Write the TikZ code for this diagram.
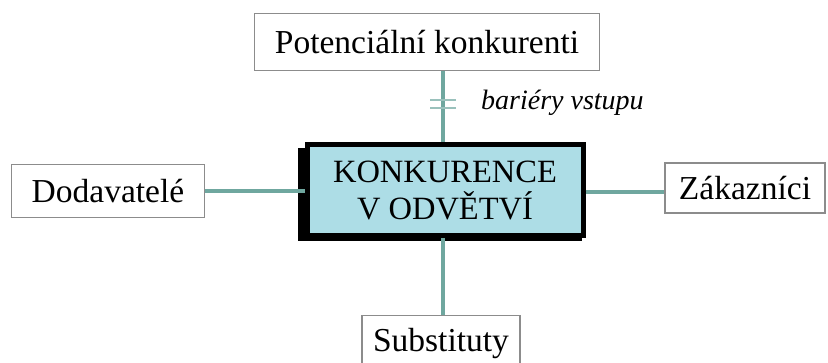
\documentclass[tikz,border=0pt]{standalone}
\usepackage{fontspec}
\setmainfont{Liberation Serif}
\begin{document}
\begin{tikzpicture}[x=1pt,y=-1pt,
  outerbox/.style={draw=black!45,line width=1.2pt,fill=white,inner sep=0pt,font=\fontsize{33.5}{36}\selectfont},
  link/.style={draw=linkcol,line width=4.5pt},
  bar/.style={draw=linkcol!70,line width=1.2pt}]
\definecolor{linkcol}{HTML}{6FA79F}
\definecolor{corefill}{HTML}{ADDDE6}
\useasboundingbox (0,0) rectangle (828,363);
% nodes
\node[outerbox,minimum width=345pt,minimum height=57pt] (pot) at (427,42) {Potenciální konkurenti};
\node[outerbox,minimum width=193pt,minimum height=53pt] (dod) at (108,191) {Dodavatelé};
\node[outerbox,minimum width=160pt,minimum height=50pt] (zak) at (745,188) {Zákazníci};
\node[outerbox,minimum width=158pt,minimum height=62pt,anchor=north,text depth=14pt] (sub) at (441,315) {Substituty};
% central box with shadow
\fill[black] (298,148) rectangle (582,241);
\node[draw=black,line width=5pt,fill=corefill,minimum width=276pt,minimum height=91pt,inner sep=0pt,
  align=center,font=\fontsize{32.5}{37}\selectfont] (core) at (445,190.5) {KONKURENCE\\V ODVĚTVÍ};
% connectors
\draw[link] (pot.south -| 443,0) -- (core.north -| 443,0);
\draw[link] (dod.east) -- (core.west |- dod.east);
\draw[link] (core.east |- 0,192) -- (zak.west |- 0,192);
\draw[link] (core.south -| 443,0) -- (sub.north -| 443,0);
% barrier marks
\coordinate (b1l) at (430,100); \coordinate (b1r) at (456,100);
\coordinate (b2l) at (430,108); \coordinate (b2r) at (456,108);
\draw[bar] (b1l) -- (b1r);
\draw[bar] (b2l) -- (b2r);
\node[anchor=west,inner sep=0pt,font=\fontsize{28}{30}\selectfont\itshape] (barlab) at (481,103) {bariéry vstupu};
\end{tikzpicture}
\end{document}
